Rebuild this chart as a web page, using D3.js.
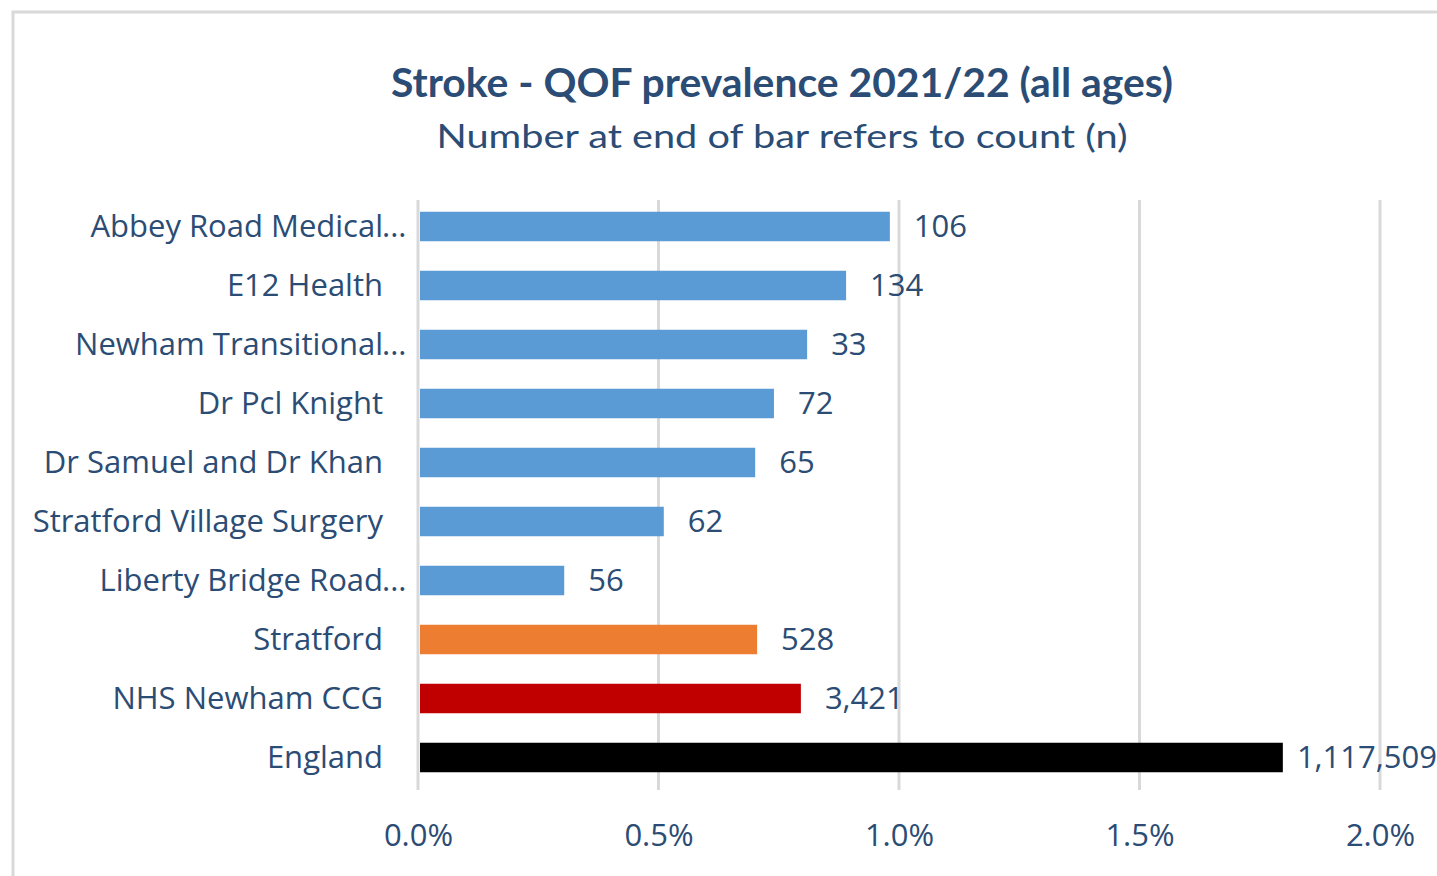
<!DOCTYPE html>
<html>
<head>
<meta charset="utf-8">
<script src="https://cdn.jsdelivr.net/npm/d3@7"></script>
<style>
  body { margin: 0; background: #fff; }
  svg { display: block; font-family: "Open Sans", Lato, sans-serif; }
</style>
</head>
<body>
<svg id="chart" width="1437" height="876"></svg>
<script>
// data
var categories = ["Abbey Road Medical...", "E12 Health", "Newham Transitional...", "Dr Pcl Knight",
  "Dr Samuel and Dr Khan", "Stratford Village Surgery", "Liberty Bridge Road...",
  "Stratford", "NHS Newham CCG", "England"];
var prevalence = [0.00981, 0.00890, 0.00809, 0.00740, 0.00701, 0.00511, 0.00304, 0.00705, 0.00796, 0.01798];
var counts = ["106", "134", "33", "72", "65", "62", "56", "528", "3,421", "1,117,509"];
var barColors = ["#5B9BD5", "#5B9BD5", "#5B9BD5", "#5B9BD5", "#5B9BD5", "#5B9BD5", "#5B9BD5",
  "#ED7D31", "#C00000", "#000000"];
var ticks = [0, 0.005, 0.01, 0.015, 0.02];

var Header = "Stroke - QOF prevalence 2021/22 (all ages)";
var Header2 = "Number at end of bar refers to count (n)";

var textColor = "#2B4C74";
var labelFont = "'Open Sans', sans-serif";
var labelSize = 31;
var W = 1437, H = 876;

var svg = d3.select("#chart");

// chart frame (only top + left edge visible in the crop)
svg.append("rect")
  .attr("x", 13).attr("y", 12)
  .attr("width", W + 20).attr("height", H + 20)
  .attr("fill", "none")
  .attr("stroke", "#D9D9D9")
  .attr("stroke-width", 3);

var x = d3.scaleLinear().domain([0, 0.02]).range([418, 1380]);
var y = d3.scaleBand().domain(categories).range([197, 787]).paddingInner(0.5).paddingOuter(0.25);

// titles
svg.append("text")
  .attr("x", 782).attr("y", 97)
  .attr("text-anchor", "middle")
  .attr("font-family", "Lato, sans-serif")
  .attr("font-size", 40).attr("font-weight", "bold")
  .attr("fill", textColor)
  .attr("textLength", 782).attr("lengthAdjust", "spacingAndGlyphs")
  .text(Header);

svg.append("text")
  .attr("x", 782).attr("y", 148)
  .attr("text-anchor", "middle")
  .attr("font-family", "Lato, sans-serif")
  .attr("font-size", 32)
  .attr("fill", textColor)
  .attr("textLength", 691).attr("lengthAdjust", "spacingAndGlyphs")
  .text(Header2);

// gridlines
svg.append("g").selectAll("line")
  .data(ticks).enter()
  .append("line")
  .attr("x1", function(d) { return x(d); })
  .attr("x2", function(d) { return x(d); })
  .attr("y1", 200).attr("y2", 790)
  .attr("stroke", "#D9D9D9")
  .attr("stroke-width", 3);

// x axis tick labels
var xAxis = d3.axisBottom(x).tickValues(ticks).tickFormat(d3.format(".1%")).tickSize(0).tickPadding(0);
var gx = svg.append("g").attr("transform", "translate(0,846)").call(xAxis);
gx.select(".domain").remove();
gx.selectAll("text")
  .attr("dy", 0)
  .attr("font-size", labelSize)
  .attr("font-family", labelFont)
  .attr("fill", textColor);

// bars
svg.append("g").selectAll("rect")
  .data(categories).enter()
  .append("rect")
  .attr("x", x(0) + 2)
  .attr("y", function(d) { return y(d); })
  .attr("width", function(d, i) { return x(prevalence[i]) - x(0) - 2; })
  .attr("height", y.bandwidth())
  .attr("fill", function(d, i) { return barColors[i]; });

// category labels; trailing dots hang past the label edge like Excel does
var labels = svg.append("g").selectAll("g")
  .data(categories).enter()
  .append("g")
  .attr("transform", function(d) { return "translate(383," + (y(d) + y.bandwidth() / 2) + ")"; });

labels.append("text")
  .attr("text-anchor", "end")
  .attr("dy", "0.35em")
  .attr("font-size", labelSize)
  .attr("fill", textColor)
  .text(function(d) { return d.replace("...", ""); });

labels.filter(function(d) { return d.indexOf("...") > 0; })
  .append("text")
  .attr("x", -1)
  .attr("dy", "0.35em")
  .attr("font-size", labelSize)
  .attr("fill", textColor)
  .text("...");

// count labels at bar ends
svg.append("g").selectAll("text")
  .data(categories).enter()
  .append("text")
  .attr("x", function(d, i) { return x(prevalence[i]) + 24; })
  .attr("y", function(d) { return y(d) + y.bandwidth() / 2; })
  .attr("dy", "0.35em")
  .attr("font-size", labelSize)
  .attr("fill", textColor)
  .text(function(d, i) { return counts[i]; })
  .each(function() {
    // keep the long England label inside the frame
    var len = this.getComputedTextLength();
    var cx = +d3.select(this).attr("x");
    if (cx + len > W) d3.select(this).attr("x", W - len);
  });
</script>
</body>
</html>
